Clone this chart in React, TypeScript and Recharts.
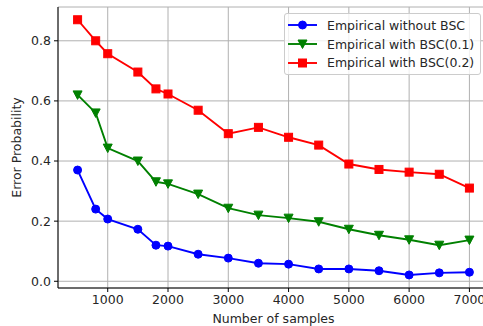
import { LineChart, Line, XAxis, YAxis, CartesianGrid } from 'recharts';

const samples = [500, 800, 1000, 1500, 1800, 2000, 2500, 3000, 3500, 4000, 4500, 5000, 5500, 6000, 6500, 7000];
const noBsc = [0.37, 0.24, 0.207, 0.173, 0.12, 0.117, 0.09, 0.077, 0.06, 0.057, 0.041, 0.041, 0.035, 0.021, 0.028, 0.03];
const bsc01 = [0.62, 0.56, 0.443, 0.4, 0.331, 0.324, 0.29, 0.243, 0.22, 0.21, 0.198, 0.173, 0.153, 0.138, 0.12, 0.137];
const bsc02 = [0.87, 0.8, 0.757, 0.696, 0.64, 0.623, 0.569, 0.491, 0.512, 0.479, 0.453, 0.39, 0.372, 0.363, 0.356, 0.31];

const xTicks = [1000, 2000, 3000, 4000, 5000, 6000, 7000];
const yTicks = [0, 0.2, 0.4, 0.6, 0.8];

const series = [
  { key: 'noBsc', name: 'Empirical without BSC', color: '#0000ff', marker: 'circle' },
  { key: 'bsc01', name: 'Empirical with BSC(0.1)', color: '#008000', marker: 'triangle' },
  { key: 'bsc02', name: 'Empirical with BSC(0.2)', color: '#ff0000', marker: 'square' },
];

const data = samples.map((n, i) => ({ n, noBsc: noBsc[i], bsc01: bsc01[i], bsc02: bsc02[i] }));

const FONT = 'DejaVu Sans, sans-serif';

function Marker({ cx, cy, color, marker }: any) {
  if (cx == null || cy == null) return null;
  if (marker === 'circle') return <circle cx={cx} cy={cy} r={4} fill={color} stroke={color} />;
  if (marker === 'square') return <rect x={cx - 4} y={cy - 4} width={8} height={8} fill={color} stroke={color} />;
  return (
    <polygon
      points={`${cx - 4.5},${cy - 4} ${cx + 4.5},${cy - 4} ${cx},${cy + 4.5}`}
      fill={color}
      stroke={color}
    />
  );
}

function LegendBox() {
  return (
    <div
      style={{
        position: 'absolute',
        left: 284,
        top: 13,
        width: 197,
        boxSizing: 'border-box',
        border: '1px solid #cccccc',
        borderRadius: 3,
        background: 'rgba(255,255,255,0.8)',
        padding: '2px 0 2px 3px',
        fontFamily: FONT,
        fontSize: 12.5,
        color: '#262626',
      }}
    >
      {series.map((s) => (
        <div key={s.key} style={{ display: 'flex', alignItems: 'center', height: 18.7 }}>
          <svg width={30} height={12} style={{ marginRight: 9, flex: 'none' }}>
            <line x1={0} y1={6} x2={29} y2={6} stroke={s.color} strokeWidth={1.9} />
            <Marker cx={14.5} cy={6} color={s.color} marker={s.marker} />
          </svg>
          <span style={{ whiteSpace: 'nowrap' }}>{s.name}</span>
        </div>
      ))}
    </div>
  );
}

export default function App() {
  const tickStyle = { fill: '#262626', fontSize: 12.5, fontFamily: FONT };
  return (
    <div style={{ position: 'absolute', left: 0, top: 0, width: 483, height: 326, overflow: 'hidden', background: '#fff' }}>
      <LineChart width={496} height={326} data={data} margin={{ top: 7, right: 7, bottom: 0, left: 0 }}>
        <CartesianGrid stroke="#b0b0b0" strokeWidth={1} />
        <XAxis
          dataKey="n"
          type="number"
          domain={[175, 7325]}
          ticks={xTicks}
          allowDataOverflow
          height={38}
          tick={tickStyle}
          tickSize={4}
          tickMargin={3}
          stroke="#000"
          label={{ value: 'Number of samples', position: 'insideBottom', offset: 3, style: { fill: '#262626', fontSize: 12.5, fontFamily: FONT } }}
        />
        <XAxis xAxisId="top" orientation="top" dataKey="n" type="number" domain={[175, 7325]} height={0} tick={false} tickLine={false} stroke="#000" />
        <YAxis
          type="number"
          domain={[-0.0224, 0.9124]}
          ticks={yTicks}
          allowDataOverflow
          width={58}
          tick={tickStyle}
          tickSize={4}
          tickMargin={3}
          tickFormatter={(v: number) => v.toFixed(1)}
          stroke="#000"
          label={{ value: 'Error Probability', angle: -90, position: 'insideLeft', offset: 17, style: { textAnchor: 'middle', fill: '#262626', fontSize: 12.5, fontFamily: FONT } }}
        />
        <YAxis yAxisId="right" orientation="right" domain={[-0.0224, 0.9124]} width={0} tick={false} tickLine={false} stroke="#000" />
        {series.map((s) => (
          <Line
            key={s.key}
            dataKey={s.key}
            name={s.name}
            stroke={s.color}
            strokeWidth={1.9}
            isAnimationActive={false}
            dot={(p: any) => <Marker key={p.index} cx={p.cx} cy={p.cy} color={s.color} marker={s.marker} />}
            activeDot={false}
          />
        ))}
      </LineChart>
      <LegendBox />
    </div>
  );
}
